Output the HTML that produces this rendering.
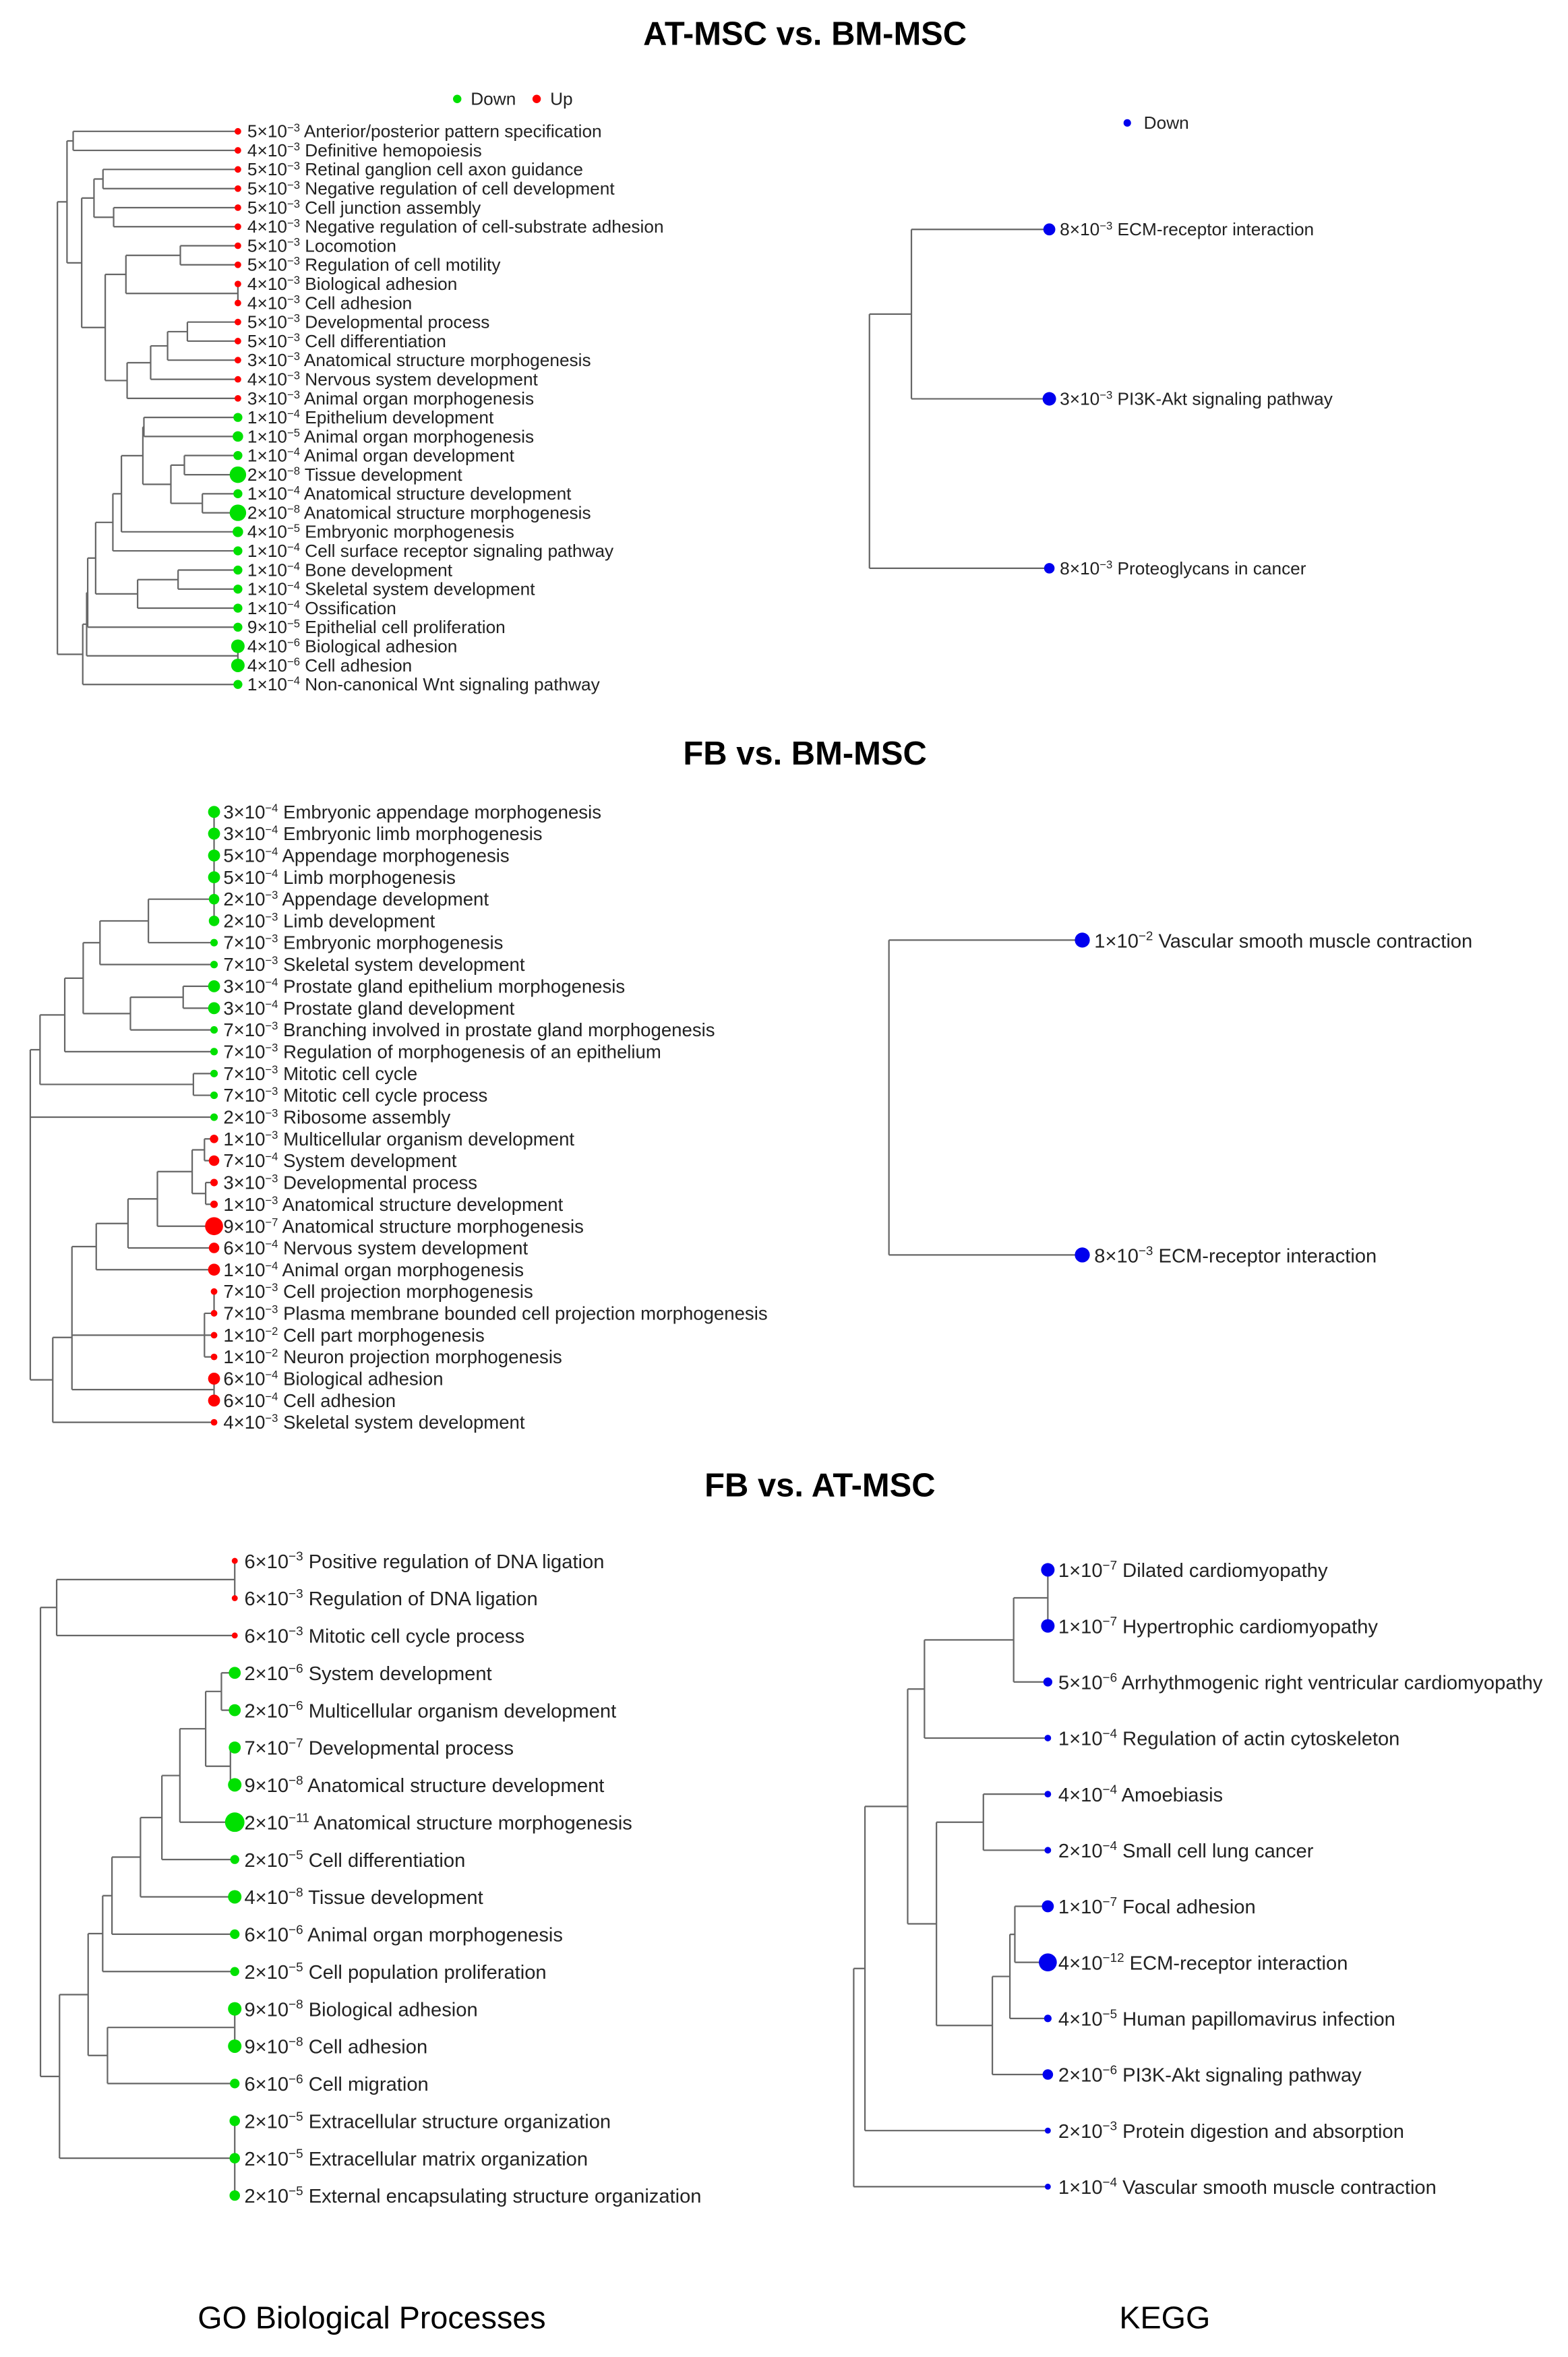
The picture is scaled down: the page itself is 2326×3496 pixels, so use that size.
<!DOCTYPE html>
<html><head><meta charset="utf-8"><style>
html,body{margin:0;padding:0;background:#fff;}
svg{display:block;}
text{font-family:"Liberation Sans",sans-serif;fill:#222;}
.t{font-weight:bold;font-size:22px;fill:#000;}
.b{font-size:21px;fill:#000;}
.s1{font-size:11.8px;}
.s2{font-size:12.4px;}
.s3{font-size:13.1px;}
</style></head><body>
<svg width="2326" height="3496" viewBox="0 0 1046 1572" preserveAspectRatio="none" xmlns="http://www.w3.org/2000/svg">
<rect width="1046" height="1572" fill="#fff"/>
<text class="t" x="537" y="30" text-anchor="middle">AT-MSC vs. BM-MSC</text>
<text class="t" x="537" y="510" text-anchor="middle">FB vs. BM-MSC</text>
<text class="t" x="547" y="998" text-anchor="middle">FB vs. AT-MSC</text>
<text class="b" x="248" y="1553" text-anchor="middle">GO Biological Processes</text>
<text class="b" x="777" y="1553" text-anchor="middle">KEGG</text>

<g fill="none" stroke="#666" stroke-width="1">
<path d="M48.8 87.6V100.3M48.8 87.6H158.7M48.8 100.3H158.7
M68.7 113V125.8M68.7 113H158.7M68.7 125.8H158.7
M75.8 138.5V151.2M75.8 138.5H158.7M75.8 151.2H158.7
M62.7 119.4V144.9M62.7 119.4H68.7M62.7 144.9H75.8
M120.3 163.9V176.6M120.3 163.9H158.7M120.3 176.6H158.7
M158.7 189.4V202.1
M84 170.3V195.7M84 170.3H120.3M84 195.7H158.7
M125 214.8V227.5M125 214.8H158.7M125 227.5H158.7
M111.8 221.2V240.2M111.8 221.2H125M111.8 240.2H158.7
M100.5 230.7V253M100.5 230.7H111.8M100.5 253H158.7
M84.8 241.9V265.7M84.8 241.9H100.5M84.8 265.7H158.7
M70.2 183V253.8M70.2 183H84M70.2 253.8H84.8
M54.5 132.1V218.4M54.5 132.1H62.7M54.5 218.4H70.2
M44.7 94V175.3M44.7 94H48.8M44.7 175.3H54.5
M96 278.4V291.1M96 278.4H158.7M96 291.1H158.7
M123 303.8V316.6M123 303.8H158.7M123 316.6H158.7
M135 329.3V342M135 329.3H158.7M135 342H158.7
M114 310.2V335.7M114 310.2H123M114 335.7H135
M95.3 284.8V323M95.3 284.8H96M95.3 323H114
M81 303.9V354.7M81 303.9H95.3M81 354.7H158.7
M75.3 329.3V367.4M75.3 329.3H81M75.3 367.4H158.7
M118.8 380.2V392.9M118.8 380.2H158.7M118.8 392.9H158.7
M91.8 386.6V405.6M91.8 386.6H118.8M91.8 405.6H158.7
M63.8 348.4V396.1M63.8 348.4H75.3M63.8 396.1H91.8
M58.5 372.2V418.3M58.5 372.2H63.8M58.5 418.3H158.7
M158.7 431V443.8
M57.8 395.3V437.4M57.8 395.3H58.5M57.8 437.4H158.7
M55.2 416.3V456.5M55.2 416.3H57.8M55.2 456.5H158.7
M38.3 134.6V436.4M38.3 134.6H44.7M38.3 436.4H55.2"/>
<path d="M608 153V266M608 153H700M608 266H700M580 209.5V379M580 209.5H608M580 379H700"/>
<path d="M142.8 541.5V614.2
M99 599.7V628.7M99 599.7H142.8M99 628.7H142.8
M66.7 614.2V643.3M66.7 614.2H99M66.7 643.3H142.8
M122.2 657.8V672.4M122.2 657.8H142.8M122.2 672.4H142.8
M87 665.1V686.9M87 665.1H122.2M87 686.9H142.8
M55.5 628.75V676M55.5 628.75H66.7M55.5 676H87
M43.2 652.4V701.4M43.2 652.4H55.5M43.2 701.4H142.8
M129 716V730.5M129 716H142.8M129 730.5H142.8
M26.7 676.9V723.25M26.7 676.9H43.2M26.7 723.25H129
M136.4 759.6V774.1M136.4 759.6H142.8M136.4 774.1H142.8
M137.2 788.7V803.2M137.2 788.7H142.8M137.2 803.2H142.8
M128.2 766.9V796M128.2 766.9H136.4M128.2 796H137.2
M105 781.4V817.8M105 781.4H128.2M105 817.8H142.8
M85.4 799.6V832.3M85.4 799.6H105M85.4 832.3H142.8
M64.2 816V846.8M64.2 816H85.4M64.2 846.8H142.8
M142.8 861.4V875.9
M136.4 875.9V905M136.4 875.9H142.8M136.4 890.5H142.8M136.4 905H142.8
M142.8 919.5V934.1
M48 831.4V926.8M48 831.4H64.2M48 890.5H136.4M48 926.8H142.8
M35.2 892V948.6M35.2 892H48M35.2 948.6H142.8
M20.2 700.1V920.3M20.2 700.1H26.7M20.2 745.1H142.8M20.2 920.3H35.2"/>
<path d="M593 627V837M593 627H722M593 837H722"/>
<path d="M156.6 1041V1065.9
M37.8 1053.5V1090.8M37.8 1053.5H156.6M37.8 1090.8H156.6
M147.7 1115.7V1140.6M147.7 1115.7H156.6M147.7 1140.6H156.6
M153.7 1165.5V1190.4M153.7 1165.5H156.6M153.7 1190.4H156.6
M137.2 1128.1V1178M137.2 1128.1H147.7M137.2 1178H153.7
M120 1153V1215.3M120 1153H137.2M120 1215.3H156.6
M108 1184.2V1240.2M108 1184.2H120M108 1240.2H156.6
M93.7 1212.2V1265.1M93.7 1212.2H108M93.7 1265.1H156.6
M74.7 1238.6V1290M74.7 1238.6H93.7M74.7 1290H156.6
M68.5 1264.3V1314.9M68.5 1264.3H74.7M68.5 1314.9H156.6
M156.6 1339.8V1364.7
M71.7 1352.2V1389.6M71.7 1352.2H156.6M71.7 1389.6H156.6
M58.8 1289.6V1370.9M58.8 1289.6H68.5M58.8 1370.9H71.7
M156.6 1414.5V1464.3
M39.7 1330.3V1439.4M39.7 1330.3H58.8M39.7 1439.4H156.6
M27 1072.1V1384.9M27 1072.1H37.8M27 1384.9H39.7"/>
<path d="M699 1047V1084.4
M676.2 1065.7V1121.8M676.2 1065.7H699M676.2 1121.8H699
M616.7 1093.75V1159.2M616.7 1093.75H676.2M616.7 1159.2H699
M656 1196.6V1234M656 1196.6H699M656 1234H699
M677 1271.4V1308.8M677 1271.4H699M677 1308.8H699
M673.7 1290.1V1346.2M673.7 1290.1H677M673.7 1346.2H699
M662 1318.2V1383.6M662 1318.2H673.7M662 1383.6H699
M624.7 1215.3V1350.9M624.7 1215.3H656M624.7 1350.9H662
M605.5 1126.5V1283.1M605.5 1126.5H616.7M605.5 1283.1H624.7
M577 1204.8V1421M577 1204.8H605.5M577 1421H699
M569.5 1312.9V1458.4M569.5 1312.9H577M569.5 1458.4H699"/>
</g>

<circle cx="305" cy="66" r="2.8" fill="#00e000"/><text class="s1" x="314" y="70">Down</text>
<circle cx="358" cy="66" r="2.8" fill="#f00"/><text class="s1" x="367" y="70">Up</text>
<g fill="#f00">
<circle cx="158.7" cy="87.6" r="2.2"/><circle cx="158.7" cy="100.3" r="2.2"/><circle cx="158.7" cy="113" r="2.2"/><circle cx="158.7" cy="125.8" r="2.2"/><circle cx="158.7" cy="138.5" r="2.2"/><circle cx="158.7" cy="151.2" r="2.2"/><circle cx="158.7" cy="163.9" r="2.2"/><circle cx="158.7" cy="176.6" r="2.2"/><circle cx="158.7" cy="189.4" r="2.2"/><circle cx="158.7" cy="202.1" r="2.2"/><circle cx="158.7" cy="214.8" r="2.2"/><circle cx="158.7" cy="227.5" r="2.2"/><circle cx="158.7" cy="240.2" r="2.2"/><circle cx="158.7" cy="253" r="2.2"/><circle cx="158.7" cy="265.7" r="2.2"/>
</g>
<g fill="#00e000">
<circle cx="158.7" cy="278.4" r="3"/><circle cx="158.7" cy="291.1" r="3.5"/><circle cx="158.7" cy="303.8" r="3"/><circle cx="158.7" cy="316.6" r="5.5"/><circle cx="158.7" cy="329.3" r="3"/><circle cx="158.7" cy="342" r="5.5"/><circle cx="158.7" cy="354.7" r="3.5"/><circle cx="158.7" cy="367.4" r="3"/><circle cx="158.7" cy="380.2" r="3"/><circle cx="158.7" cy="392.9" r="3"/><circle cx="158.7" cy="405.6" r="3"/><circle cx="158.7" cy="418.3" r="3"/><circle cx="158.7" cy="431" r="4.5"/><circle cx="158.7" cy="443.8" r="4.5"/><circle cx="158.7" cy="456.5" r="3"/>
</g>
<g class="s1">
<text x="165" y="91.6">5×10<tspan font-size="7.5" dy="-4">−3</tspan><tspan dy="4"> Anterior/posterior pattern specification</tspan></text>
<text x="165" y="104.3">4×10<tspan font-size="7.5" dy="-4">−3</tspan><tspan dy="4"> Definitive hemopoiesis</tspan></text>
<text x="165" y="117">5×10<tspan font-size="7.5" dy="-4">−3</tspan><tspan dy="4"> Retinal ganglion cell axon guidance</tspan></text>
<text x="165" y="129.8">5×10<tspan font-size="7.5" dy="-4">−3</tspan><tspan dy="4"> Negative regulation of cell development</tspan></text>
<text x="165" y="142.5">5×10<tspan font-size="7.5" dy="-4">−3</tspan><tspan dy="4"> Cell junction assembly</tspan></text>
<text x="165" y="155.2">4×10<tspan font-size="7.5" dy="-4">−3</tspan><tspan dy="4"> Negative regulation of cell-substrate adhesion</tspan></text>
<text x="165" y="167.9">5×10<tspan font-size="7.5" dy="-4">−3</tspan><tspan dy="4"> Locomotion</tspan></text>
<text x="165" y="180.6">5×10<tspan font-size="7.5" dy="-4">−3</tspan><tspan dy="4"> Regulation of cell motility</tspan></text>
<text x="165" y="193.4">4×10<tspan font-size="7.5" dy="-4">−3</tspan><tspan dy="4"> Biological adhesion</tspan></text>
<text x="165" y="206.1">4×10<tspan font-size="7.5" dy="-4">−3</tspan><tspan dy="4"> Cell adhesion</tspan></text>
<text x="165" y="218.8">5×10<tspan font-size="7.5" dy="-4">−3</tspan><tspan dy="4"> Developmental process</tspan></text>
<text x="165" y="231.5">5×10<tspan font-size="7.5" dy="-4">−3</tspan><tspan dy="4"> Cell differentiation</tspan></text>
<text x="165" y="244.2">3×10<tspan font-size="7.5" dy="-4">−3</tspan><tspan dy="4"> Anatomical structure morphogenesis</tspan></text>
<text x="165" y="257">4×10<tspan font-size="7.5" dy="-4">−3</tspan><tspan dy="4"> Nervous system development</tspan></text>
<text x="165" y="269.7">3×10<tspan font-size="7.5" dy="-4">−3</tspan><tspan dy="4"> Animal organ morphogenesis</tspan></text>
<text x="165" y="282.4">1×10<tspan font-size="7.5" dy="-4">−4</tspan><tspan dy="4"> Epithelium development</tspan></text>
<text x="165" y="295.1">1×10<tspan font-size="7.5" dy="-4">−5</tspan><tspan dy="4"> Animal organ morphogenesis</tspan></text>
<text x="165" y="307.8">1×10<tspan font-size="7.5" dy="-4">−4</tspan><tspan dy="4"> Animal organ development</tspan></text>
<text x="165" y="320.6">2×10<tspan font-size="7.5" dy="-4">−8</tspan><tspan dy="4"> Tissue development</tspan></text>
<text x="165" y="333.3">1×10<tspan font-size="7.5" dy="-4">−4</tspan><tspan dy="4"> Anatomical structure development</tspan></text>
<text x="165" y="346">2×10<tspan font-size="7.5" dy="-4">−8</tspan><tspan dy="4"> Anatomical structure morphogenesis</tspan></text>
<text x="165" y="358.7">4×10<tspan font-size="7.5" dy="-4">−5</tspan><tspan dy="4"> Embryonic morphogenesis</tspan></text>
<text x="165" y="371.4">1×10<tspan font-size="7.5" dy="-4">−4</tspan><tspan dy="4"> Cell surface receptor signaling pathway</tspan></text>
<text x="165" y="384.2">1×10<tspan font-size="7.5" dy="-4">−4</tspan><tspan dy="4"> Bone development</tspan></text>
<text x="165" y="396.9">1×10<tspan font-size="7.5" dy="-4">−4</tspan><tspan dy="4"> Skeletal system development</tspan></text>
<text x="165" y="409.6">1×10<tspan font-size="7.5" dy="-4">−4</tspan><tspan dy="4"> Ossification</tspan></text>
<text x="165" y="422.3">9×10<tspan font-size="7.5" dy="-4">−5</tspan><tspan dy="4"> Epithelial cell proliferation</tspan></text>
<text x="165" y="435">4×10<tspan font-size="7.5" dy="-4">−6</tspan><tspan dy="4"> Biological adhesion</tspan></text>
<text x="165" y="447.8">4×10<tspan font-size="7.5" dy="-4">−6</tspan><tspan dy="4"> Cell adhesion</tspan></text>
<text x="165" y="460.5">1×10<tspan font-size="7.5" dy="-4">−4</tspan><tspan dy="4"> Non-canonical Wnt signaling pathway</tspan></text>
</g>
<circle cx="752" cy="82" r="2.5" fill="#0000ee"/><text class="s1" x="763" y="86">Down</text>
<g fill="#0000ee"><circle cx="700" cy="153" r="4"/><circle cx="700" cy="266" r="4.5"/><circle cx="700" cy="379" r="3.5"/></g>
<g class="s1">
<text x="707" y="157">8×10<tspan font-size="7.5" dy="-4">−3</tspan><tspan dy="4"> ECM-receptor interaction</tspan></text>
<text x="707" y="270">3×10<tspan font-size="7.5" dy="-4">−3</tspan><tspan dy="4"> PI3K-Akt signaling pathway</tspan></text>
<text x="707" y="383">8×10<tspan font-size="7.5" dy="-4">−3</tspan><tspan dy="4"> Proteoglycans in cancer</tspan></text>
</g>

<g fill="#00e000">
<circle cx="142.8" cy="541.5" r="4"/><circle cx="142.8" cy="556" r="4"/><circle cx="142.8" cy="570.6" r="4"/><circle cx="142.8" cy="585.1" r="4"/><circle cx="142.8" cy="599.7" r="3.5"/><circle cx="142.8" cy="614.2" r="3.5"/><circle cx="142.8" cy="628.7" r="2.5"/><circle cx="142.8" cy="643.3" r="2.5"/><circle cx="142.8" cy="657.8" r="4"/><circle cx="142.8" cy="672.4" r="4"/><circle cx="142.8" cy="686.9" r="2.5"/><circle cx="142.8" cy="701.4" r="2.5"/><circle cx="142.8" cy="716" r="2.5"/><circle cx="142.8" cy="730.5" r="2.5"/><circle cx="142.8" cy="745.1" r="2.5"/>
</g>
<g fill="#f00">
<circle cx="142.8" cy="759.6" r="2.8"/><circle cx="142.8" cy="774.1" r="3.5"/><circle cx="142.8" cy="788.7" r="2.5"/><circle cx="142.8" cy="803.2" r="2.5"/><circle cx="142.8" cy="817.8" r="6"/><circle cx="142.8" cy="832.3" r="3.5"/><circle cx="142.8" cy="846.8" r="4"/><circle cx="142.8" cy="861.4" r="2.2"/><circle cx="142.8" cy="875.9" r="2.2"/><circle cx="142.8" cy="890.5" r="2.2"/><circle cx="142.8" cy="905" r="2.2"/><circle cx="142.8" cy="919.5" r="4"/><circle cx="142.8" cy="934.1" r="4"/><circle cx="142.8" cy="948.6" r="2.2"/>
</g>
<g class="s2">
<text x="149" y="545.8">3×10<tspan font-size="7.5" dy="-4.5">−4</tspan><tspan dy="4.5"> Embryonic appendage morphogenesis</tspan></text>
<text x="149" y="560.3">3×10<tspan font-size="7.5" dy="-4.5">−4</tspan><tspan dy="4.5"> Embryonic limb morphogenesis</tspan></text>
<text x="149" y="574.9">5×10<tspan font-size="7.5" dy="-4.5">−4</tspan><tspan dy="4.5"> Appendage morphogenesis</tspan></text>
<text x="149" y="589.4">5×10<tspan font-size="7.5" dy="-4.5">−4</tspan><tspan dy="4.5"> Limb morphogenesis</tspan></text>
<text x="149" y="604">2×10<tspan font-size="7.5" dy="-4.5">−3</tspan><tspan dy="4.5"> Appendage development</tspan></text>
<text x="149" y="618.5">2×10<tspan font-size="7.5" dy="-4.5">−3</tspan><tspan dy="4.5"> Limb development</tspan></text>
<text x="149" y="633">7×10<tspan font-size="7.5" dy="-4.5">−3</tspan><tspan dy="4.5"> Embryonic morphogenesis</tspan></text>
<text x="149" y="647.6">7×10<tspan font-size="7.5" dy="-4.5">−3</tspan><tspan dy="4.5"> Skeletal system development</tspan></text>
<text x="149" y="662.1">3×10<tspan font-size="7.5" dy="-4.5">−4</tspan><tspan dy="4.5"> Prostate gland epithelium morphogenesis</tspan></text>
<text x="149" y="676.7">3×10<tspan font-size="7.5" dy="-4.5">−4</tspan><tspan dy="4.5"> Prostate gland development</tspan></text>
<text x="149" y="691.2">7×10<tspan font-size="7.5" dy="-4.5">−3</tspan><tspan dy="4.5"> Branching involved in prostate gland morphogenesis</tspan></text>
<text x="149" y="705.7">7×10<tspan font-size="7.5" dy="-4.5">−3</tspan><tspan dy="4.5"> Regulation of morphogenesis of an epithelium</tspan></text>
<text x="149" y="720.3">7×10<tspan font-size="7.5" dy="-4.5">−3</tspan><tspan dy="4.5"> Mitotic cell cycle</tspan></text>
<text x="149" y="734.8">7×10<tspan font-size="7.5" dy="-4.5">−3</tspan><tspan dy="4.5"> Mitotic cell cycle process</tspan></text>
<text x="149" y="749.4">2×10<tspan font-size="7.5" dy="-4.5">−3</tspan><tspan dy="4.5"> Ribosome assembly</tspan></text>
<text x="149" y="763.9">1×10<tspan font-size="7.5" dy="-4.5">−3</tspan><tspan dy="4.5"> Multicellular organism development</tspan></text>
<text x="149" y="778.4">7×10<tspan font-size="7.5" dy="-4.5">−4</tspan><tspan dy="4.5"> System development</tspan></text>
<text x="149" y="793">3×10<tspan font-size="7.5" dy="-4.5">−3</tspan><tspan dy="4.5"> Developmental process</tspan></text>
<text x="149" y="807.5">1×10<tspan font-size="7.5" dy="-4.5">−3</tspan><tspan dy="4.5"> Anatomical structure development</tspan></text>
<text x="149" y="822.1">9×10<tspan font-size="7.5" dy="-4.5">−7</tspan><tspan dy="4.5"> Anatomical structure morphogenesis</tspan></text>
<text x="149" y="836.6">6×10<tspan font-size="7.5" dy="-4.5">−4</tspan><tspan dy="4.5"> Nervous system development</tspan></text>
<text x="149" y="851.1">1×10<tspan font-size="7.5" dy="-4.5">−4</tspan><tspan dy="4.5"> Animal organ morphogenesis</tspan></text>
<text x="149" y="865.7">7×10<tspan font-size="7.5" dy="-4.5">−3</tspan><tspan dy="4.5"> Cell projection morphogenesis</tspan></text>
<text x="149" y="880.2">7×10<tspan font-size="7.5" dy="-4.5">−3</tspan><tspan dy="4.5"> Plasma membrane bounded cell projection morphogenesis</tspan></text>
<text x="149" y="894.8">1×10<tspan font-size="7.5" dy="-4.5">−2</tspan><tspan dy="4.5"> Cell part morphogenesis</tspan></text>
<text x="149" y="909.3">1×10<tspan font-size="7.5" dy="-4.5">−2</tspan><tspan dy="4.5"> Neuron projection morphogenesis</tspan></text>
<text x="149" y="923.8">6×10<tspan font-size="7.5" dy="-4.5">−4</tspan><tspan dy="4.5"> Biological adhesion</tspan></text>
<text x="149" y="938.4">6×10<tspan font-size="7.5" dy="-4.5">−4</tspan><tspan dy="4.5"> Cell adhesion</tspan></text>
<text x="149" y="952.9">4×10<tspan font-size="7.5" dy="-4.5">−3</tspan><tspan dy="4.5"> Skeletal system development</tspan></text>
</g>
<g fill="#0000ee"><circle cx="722" cy="627" r="5"/><circle cx="722" cy="837" r="5"/></g>
<g class="s3">
<text x="730" y="632">1×10<tspan font-size="8.5" dy="-5">−2</tspan><tspan dy="5"> Vascular smooth muscle contraction</tspan></text>
<text x="730" y="842">8×10<tspan font-size="8.5" dy="-5">−3</tspan><tspan dy="5"> ECM-receptor interaction</tspan></text>
</g>

<g fill="#f00"><circle cx="156.6" cy="1041" r="2"/><circle cx="156.6" cy="1065.9" r="2"/><circle cx="156.6" cy="1090.8" r="2"/></g>
<g fill="#00e000">
<circle cx="156.6" cy="1115.7" r="4"/><circle cx="156.6" cy="1140.6" r="4"/><circle cx="156.6" cy="1165.5" r="4"/><circle cx="156.6" cy="1190.4" r="4.5"/><circle cx="156.6" cy="1215.3" r="6.5"/><circle cx="156.6" cy="1240.2" r="3"/><circle cx="156.6" cy="1265.1" r="4.5"/><circle cx="156.6" cy="1290" r="3.2"/><circle cx="156.6" cy="1314.9" r="3"/><circle cx="156.6" cy="1339.8" r="4.5"/><circle cx="156.6" cy="1364.7" r="4.5"/><circle cx="156.6" cy="1389.6" r="3.2"/><circle cx="156.6" cy="1414.5" r="3.5"/><circle cx="156.6" cy="1439.4" r="3.5"/><circle cx="156.6" cy="1464.3" r="3.5"/>
</g>
<g class="s3">
<text x="163" y="1045.8">6×10<tspan font-size="8.5" dy="-5">−3</tspan><tspan dy="5"> Positive regulation of DNA ligation</tspan></text>
<text x="163" y="1070.7">6×10<tspan font-size="8.5" dy="-5">−3</tspan><tspan dy="5"> Regulation of DNA ligation</tspan></text>
<text x="163" y="1095.6">6×10<tspan font-size="8.5" dy="-5">−3</tspan><tspan dy="5"> Mitotic cell cycle process</tspan></text>
<text x="163" y="1120.5">2×10<tspan font-size="8.5" dy="-5">−6</tspan><tspan dy="5"> System development</tspan></text>
<text x="163" y="1145.4">2×10<tspan font-size="8.5" dy="-5">−6</tspan><tspan dy="5"> Multicellular organism development</tspan></text>
<text x="163" y="1170.3">7×10<tspan font-size="8.5" dy="-5">−7</tspan><tspan dy="5"> Developmental process</tspan></text>
<text x="163" y="1195.2">9×10<tspan font-size="8.5" dy="-5">−8</tspan><tspan dy="5"> Anatomical structure development</tspan></text>
<text x="163" y="1220.1">2×10<tspan font-size="8.5" dy="-5">−11</tspan><tspan dy="5"> Anatomical structure morphogenesis</tspan></text>
<text x="163" y="1245">2×10<tspan font-size="8.5" dy="-5">−5</tspan><tspan dy="5"> Cell differentiation</tspan></text>
<text x="163" y="1269.9">4×10<tspan font-size="8.5" dy="-5">−8</tspan><tspan dy="5"> Tissue development</tspan></text>
<text x="163" y="1294.8">6×10<tspan font-size="8.5" dy="-5">−6</tspan><tspan dy="5"> Animal organ morphogenesis</tspan></text>
<text x="163" y="1319.7">2×10<tspan font-size="8.5" dy="-5">−5</tspan><tspan dy="5"> Cell population proliferation</tspan></text>
<text x="163" y="1344.6">9×10<tspan font-size="8.5" dy="-5">−8</tspan><tspan dy="5"> Biological adhesion</tspan></text>
<text x="163" y="1369.5">9×10<tspan font-size="8.5" dy="-5">−8</tspan><tspan dy="5"> Cell adhesion</tspan></text>
<text x="163" y="1394.4">6×10<tspan font-size="8.5" dy="-5">−6</tspan><tspan dy="5"> Cell migration</tspan></text>
<text x="163" y="1419.3">2×10<tspan font-size="8.5" dy="-5">−5</tspan><tspan dy="5"> Extracellular structure organization</tspan></text>
<text x="163" y="1444.2">2×10<tspan font-size="8.5" dy="-5">−5</tspan><tspan dy="5"> Extracellular matrix organization</tspan></text>
<text x="163" y="1469.1">2×10<tspan font-size="8.5" dy="-5">−5</tspan><tspan dy="5"> External encapsulating structure organization</tspan></text>
</g>

<g fill="#0000ee">
<circle cx="699" cy="1047" r="4.5"/><circle cx="699" cy="1084.4" r="4.5"/><circle cx="699" cy="1121.8" r="3"/><circle cx="699" cy="1159.2" r="2.2"/><circle cx="699" cy="1196.6" r="2.2"/><circle cx="699" cy="1234" r="2.2"/><circle cx="699" cy="1271.4" r="4"/><circle cx="699" cy="1308.8" r="6"/><circle cx="699" cy="1346.2" r="2.5"/><circle cx="699" cy="1383.6" r="3.5"/><circle cx="699" cy="1421" r="2"/><circle cx="699" cy="1458.4" r="2"/>
</g>
<g class="s3">
<text x="706" y="1051.8">1×10<tspan font-size="8.5" dy="-5">−7</tspan><tspan dy="5"> Dilated cardiomyopathy</tspan></text>
<text x="706" y="1089.2">1×10<tspan font-size="8.5" dy="-5">−7</tspan><tspan dy="5"> Hypertrophic cardiomyopathy</tspan></text>
<text x="706" y="1126.6">5×10<tspan font-size="8.5" dy="-5">−6</tspan><tspan dy="5"> Arrhythmogenic right ventricular cardiomyopathy</tspan></text>
<text x="706" y="1164">1×10<tspan font-size="8.5" dy="-5">−4</tspan><tspan dy="5"> Regulation of actin cytoskeleton</tspan></text>
<text x="706" y="1201.4">4×10<tspan font-size="8.5" dy="-5">−4</tspan><tspan dy="5"> Amoebiasis</tspan></text>
<text x="706" y="1238.8">2×10<tspan font-size="8.5" dy="-5">−4</tspan><tspan dy="5"> Small cell lung cancer</tspan></text>
<text x="706" y="1276.2">1×10<tspan font-size="8.5" dy="-5">−7</tspan><tspan dy="5"> Focal adhesion</tspan></text>
<text x="706" y="1313.6">4×10<tspan font-size="8.5" dy="-5">−12</tspan><tspan dy="5"> ECM-receptor interaction</tspan></text>
<text x="706" y="1351">4×10<tspan font-size="8.5" dy="-5">−5</tspan><tspan dy="5"> Human papillomavirus infection</tspan></text>
<text x="706" y="1388.4">2×10<tspan font-size="8.5" dy="-5">−6</tspan><tspan dy="5"> PI3K-Akt signaling pathway</tspan></text>
<text x="706" y="1425.8">2×10<tspan font-size="8.5" dy="-5">−3</tspan><tspan dy="5"> Protein digestion and absorption</tspan></text>
<text x="706" y="1463.2">1×10<tspan font-size="8.5" dy="-5">−4</tspan><tspan dy="5"> Vascular smooth muscle contraction</tspan></text>
</g>
</svg>
</body></html>
